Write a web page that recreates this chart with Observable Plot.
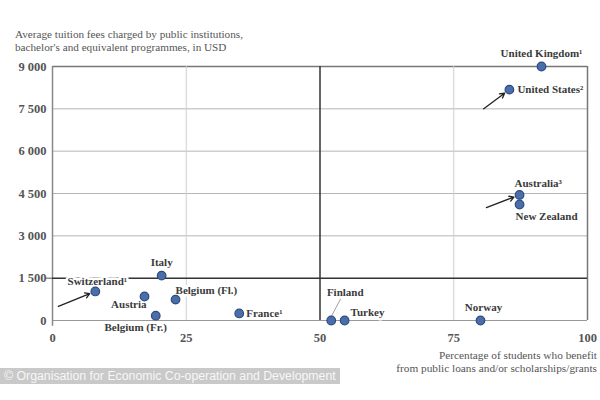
<!DOCTYPE html>
<html>
<head>
<meta charset="utf-8">
<script src="https://cdn.jsdelivr.net/npm/d3@7"></script>
<script src="https://cdn.jsdelivr.net/npm/@observablehq/plot@0.6"></script>
<style>
  html, body { margin: 0; padding: 0; background: #fff; }
  #wrap { position: relative; width: 600px; height: 400px; overflow: hidden; }
  #chart { position: absolute; left: 0; top: 0; }
  .ytitle { position: absolute; left: 15px; top: 28px; font: 11.2px/13px "Liberation Serif", serif; color: #555; white-space: nowrap; }
  .xtitle { position: absolute; right: 3px; top: 349px; font: 11.3px/12.5px "Liberation Serif", serif; color: #555; text-align: right; white-space: nowrap; }
  .banner { position: absolute; left: 0; top: 368px; width: 340px; height: 16px; background: #c9c9c9; color: #f7f7f7;
            font: 12.3px/16px "Liberation Sans", sans-serif; padding-left: 4px; box-sizing: border-box; white-space: nowrap; overflow: hidden; }
</style>
</head>
<body>
<div id="wrap">
  <div id="chart"></div>
  <div class="ytitle">Average tuition fees charged by public institutions,<br>bachelor's and equivalent programmes, in USD</div>
  <div class="xtitle">Percentage of students who benefit<br>from public loans and/or scholarships/grants</div>
  <div class="banner">© Organisation for Economic Co-operation and Development</div>
</div>
<script>
// ---- data ----
const countries = ["United Kingdom¹", "United States²", "Australia³", "New Zealand", "Switzerland¹", "Italy",
                   "Austria", "Belgium (Fl.)", "Belgium (Fr.)", "France¹", "Finland", "Turkey", "Norway"];
const pctBenefit = [91.4, 85.4, 87.3, 87.3, 8.0, 20.4, 17.2, 23.0, 19.3, 34.9, 52.1, 54.6, 80.0];
const tuition =    [9000, 8180, 4450, 4110, 1030, 1590, 850, 740, 170, 250, 0, 0, 0];
const yTicks = [0, 1500, 3000, 4500, 6000, 7500, 9000];
const xTicks = [0, 25, 50, 75, 100];

// label placement (style, not data)
const placement = {
  "United Kingdom¹": {a: "middle", dx: 0, dy: -13},
  "United States²":  {a: "start", dx: 8, dy: 0},
  "Australia³":      {a: "start", dx: -5, dy: -11},
  "New Zealand":     {a: "start", dx: -4, dy: 12},
  "Switzerland¹":    {a: "middle", dx: 2, dy: -10},
  "Italy":           {a: "middle", dx: 0, dy: -13},
  "Austria":         {a: "end", dx: 2, dy: 8},
  "Belgium (Fl.)":   {a: "start", dx: 0, dy: -9},
  "Belgium (Fr.)":   {a: "middle", dx: -20, dy: 12},
  "France¹":         {a: "start", dx: 7, dy: 0},
  "Finland":         {a: "middle", dx: 14, dy: -28},
  "Turkey":          {a: "start", dx: 6, dy: -8},
  "Norway":          {a: "middle", dx: 3, dy: -13}
};

// annotation arrows: start point (data units) -> country
const arrowFrom = [
  {c: "Switzerland¹", x: 1.1, y: 500},
  {c: "United States²", x: 80.6, y: 7500},
  {c: "Australia³", x: 81.1, y: 4000}
];

const data = countries.map((c, i) => ({c, x: pctBenefit[i], y: tuition[i]}));
const byName = Object.fromEntries(data.map(d => [d.c, d]));
const arrows = arrowFrom.map(a => ({x1: a.x, y1: a.y, x2: byName[a.c].x, y2: byName[a.c].y}));
const finland = byName["Finland"];
const leader = [{x1: finland.x + 1.8, y1: 780, x2: finland.x, y2: 140}];

const fmt = v => v >= 1000 ? d3.format(",")(v).replace(",", " ") : String(v);
const font = "Liberation Serif, serif";

const textMarks = data.map(d => Plot.text([d], {
  x: "x", y: "y", text: "c", textAnchor: placement[d.c].a,
  dx: placement[d.c].dx, dy: placement[d.c].dy,
  fill: "#3a3a3a", stroke: "white", strokeWidth: 5, paintOrder: "stroke",
  fontWeight: "bold", fontSize: 11, fontFamily: font
}));

const chart = Plot.plot({
  width: 600, height: 400,
  marginLeft: 52, marginRight: 13, marginTop: 66, marginBottom: 80,
  style: {fontFamily: font, background: "transparent"},
  x: {type: "linear", domain: [0, 100]},
  y: {type: "linear", domain: [0, 9000]},
  marks: [
    Plot.ruleY([3000, 4500, 6000, 7500], {stroke: "#b5b5b5", strokeWidth: 1}),
    Plot.ruleY([0], {stroke: "#999", strokeWidth: 1.2}),
    Plot.ruleY([9000], {stroke: "#777", strokeWidth: 1.5}),
    Plot.ruleX([25, 75], {stroke: "#cfcfcf", strokeWidth: 1}),
    Plot.ruleX([0], {stroke: "#888", strokeWidth: 1.5, y1: -200, y2: 9000}),
    Plot.ruleX([100], {stroke: "#777", strokeWidth: 1.5}),
    Plot.ruleX([50], {stroke: "#333", strokeWidth: 1.5}),
    Plot.ruleY([1500], {stroke: "#333", strokeWidth: 1.5}),
    Plot.ruleY([1500], {x1: -1.2, x2: 0, stroke: "#555", strokeWidth: 1}),
    Plot.axisY({ticks: yTicks, tickSize: 0, tickPadding: 6, tickFormat: fmt,
                fontWeight: "bold", fontSize: 12.5, color: "#555", label: null}),
    Plot.axisX({ticks: xTicks, tickSize: 0, tickPadding: 13, fontWeight: "bold",
                fontSize: 12.5, color: "#555", label: null}),
    Plot.arrow(arrows, {x1: "x1", y1: "y1", x2: "x2", y2: "y2", stroke: "#222",
                        strokeWidth: 1.3, headLength: 6, insetEnd: 6}),
    Plot.link(leader, {x1: "x1", y1: "y1", x2: "x2", y2: "y2", stroke: "#888", strokeWidth: 0.8}),
    ...textMarks,
    Plot.dot(data, {x: "x", y: "y", r: 4.3, fill: "#4a6fa8", stroke: "#2c4a80", strokeWidth: 1.2})
  ]
});
document.getElementById("chart").appendChild(chart);
</script>
</body>
</html>
